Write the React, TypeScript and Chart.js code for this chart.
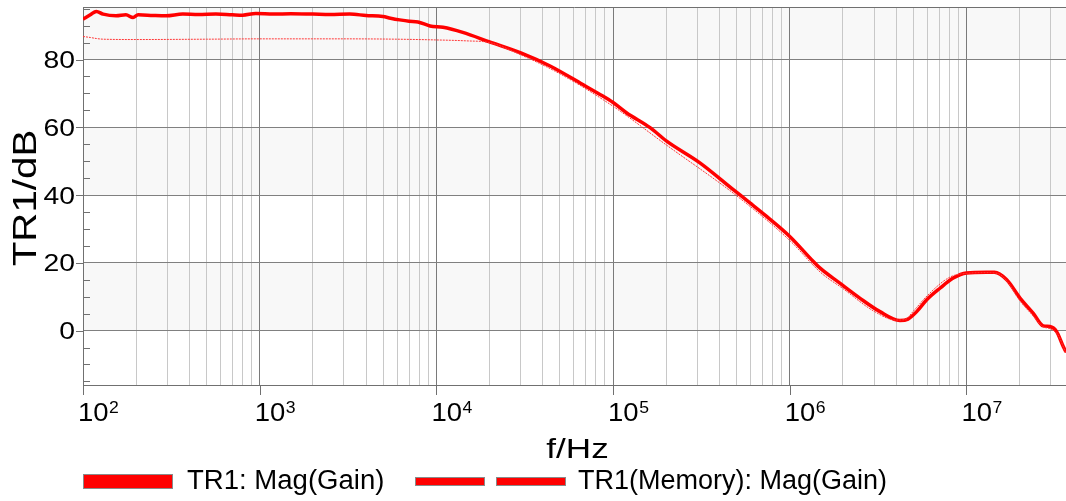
import React, { useEffect, useRef } from 'react';
import { Chart, registerables } from 'chart.js';

Chart.register(...registerables);

// ---- data ----
const mainFreq = [
  100, 110, 119, 130, 154, 175, 192, 205, 250, 295, 367, 450, 565, 700, 800, 950,
  1200, 1500, 2000, 2500, 3230, 4000, 4980, 5500, 6200, 7000, 7860, 9200, 10900,
  14100, 20000, 30300, 44000, 67000, 84300, 100000, 119000, 162000, 201000, 310000,
  479000, 595000, 740000, 1000000, 1360000, 1480000, 1920000, 2490000, 3240000,
  4200000, 4670000, 5230000, 5960000, 7080000, 8420000, 10000000, 13000000,
  14400000, 16900000, 20100000, 23900000, 27200000, 29700000, 32400000, 35300000,
  36600000,
];
const mainDb = [
  91.9, 93.2, 94.2, 93.4, 92.9, 93.2, 92.4, 93.2, 93.0, 92.9, 93.4, 93.3, 93.4, 93.2,
  93.1, 93.6, 93.4, 93.5, 93.4, 93.3, 93.4, 93.0, 92.7, 92.2, 91.7, 91.3, 91.1, 89.9,
  89.5, 88.0, 85.2, 81.9, 78.1, 72.7, 69.7, 67.3, 64.3, 59.9, 55.9, 49.5, 41.6, 37.7,
  33.7, 27.8, 20.4, 18.5, 14.0, 9.6, 5.6, 3.0, 3.4, 5.6, 9.1, 12.5, 15.5, 17.0, 17.2,
  17.2, 15.0, 9.6, 5.1, 1.4, 1.2, -0.3, -4.7, -6.3,
];
const memFreq = [
  100, 110, 119, 130, 200, 500, 1000, 3000, 6000, 9600, 14900, 20000, 30000, 50000,
  100000, 200000, 500000, 1000000, 1500000, 2000000, 3000000, 4000000, 4500000,
  5000000, 6000000, 8000000, 10000000, 13000000, 15000000, 17000000, 20000000,
  24000000, 27000000, 30000000, 33000000, 36600000,
];
const memDb = [
  86.8, 86.5, 86.2, 86.0, 85.9, 86.0, 86.1, 86.1, 86.0, 85.8, 85.5, 85.0, 81.4, 75.8,
  66.2, 54.8, 39.8, 26.6, 17.1, 12.4, 5.7, 3.1, 3.3, 5.7, 10.3, 15.7, 16.9, 17.1, 16.9,
  14.5, 8.9, 4.2, 1.2, 0.5, -1.3, -6.8,
];
const seriesLabels = ['TR1: Mag(Gain)', 'TR1(Memory): Mag(Gain)'];
const yMajorTicks = [0, 20, 40, 60, 80];
const yMinorTicks = [-15, -10, -5, 5, 10, 15, 25, 30, 35, 45, 50, 55, 65, 70, 75, 85, 90, 95];
const xDecadeExps = [2, 3, 4, 5, 6, 7];
const xTitle = 'f/Hz';
const yTitle = 'TR1/dB';

const X_MIN = 100;
const X_MAX = 3.66e7;
const Y_MIN = -16.05;
const Y_MAX = 95.5;

const FONT = '"Liberation Sans", Arial, sans-serif';
const RED = '#ff0000';
const AXIS = '#707070';

function buildXTicks(): number[] {
  const out: number[] = [];
  for (let e = 2; e <= 7; e++) {
    for (let m = 1; m <= 9; m++) {
      const v = m * Math.pow(10, e);
      if (v >= X_MIN && v <= X_MAX) out.push(v);
    }
  }
  return out;
}

function isDecade(v: number) {
  const l = Math.log10(v);
  return Math.abs(l - Math.round(l)) < 1e-9;
}

function stretchedText(ctx: CanvasRenderingContext2D, text: string, x: number, y: number, sx: number, align: CanvasTextAlign) {
  ctx.save();
  ctx.translate(x, y);
  ctx.scale(sx, 1);
  ctx.textAlign = align;
  ctx.fillText(text, 0, 0);
  ctx.restore();
}

const decorPlugin = {
  id: 'decor',
  beforeDraw(chart: any) {
    const { ctx, chartArea: a, scales } = chart;
    const y = scales.y;
    ctx.save();
    ctx.fillStyle = '#ffffff';
    ctx.fillRect(0, 0, chart.width, chart.height);
    ctx.fillStyle = '#f8f8f8';
    const bands = [[0, 20], [40, 60], [80, Y_MAX]];
    for (const [lo, hi] of bands) {
      const t = y.getPixelForValue(hi);
      const b = y.getPixelForValue(lo);
      ctx.fillRect(a.left, t, a.right - a.left, b - t);
    }
    ctx.restore();
  },
  afterDraw(chart: any) {
    const { ctx, chartArea: a, scales } = chart;
    const x = scales.x;
    const y = scales.y;
    ctx.save();
    ctx.strokeStyle = AXIS;
    ctx.lineWidth = 1;
    // top frame
    ctx.beginPath();
    ctx.moveTo(a.left, Math.round(a.top) + 0.5);
    ctx.lineTo(a.right, Math.round(a.top) + 0.5);
    ctx.stroke();
    // y ticks
    ctx.beginPath();
    for (const v of yMajorTicks) {
      const py = Math.round(y.getPixelForValue(v)) + 0.5;
      ctx.moveTo(a.left - 7, py);
      ctx.lineTo(a.left, py);
    }
    for (const v of yMinorTicks) {
      const py = Math.round(y.getPixelForValue(v)) + 0.5;
      ctx.moveTo(a.left, py);
      ctx.lineTo(a.left + 7, py);
    }
    // x decade ticks
    for (const e of xDecadeExps) {
      const px = Math.round(x.getPixelForValue(Math.pow(10, e))) + 0.5;
      ctx.moveTo(px, a.bottom);
      ctx.lineTo(px, a.bottom + 10);
    }
    ctx.stroke();

    ctx.fillStyle = '#000000';
    ctx.textBaseline = 'alphabetic';
    // y tick labels
    ctx.font = `24px ${FONT}`;
    for (const v of yMajorTicks) {
      const py = y.getPixelForValue(v);
      stretchedText(ctx, String(v), a.left - 8, py + 8.5, 1.18, 'right');
    }
    // x tick labels 10^n
    for (const e of xDecadeExps) {
      const px = x.getPixelForValue(Math.pow(10, e));
      ctx.font = `25px ${FONT}`;
      const sx = 1.1;
      const w = ctx.measureText('10').width * sx;
      stretchedText(ctx, '10', px - 5, a.bottom + 36, sx, 'left');
      ctx.font = `16px ${FONT}`;
      stretchedText(ctx, String(e), px - 5 + w + 0.5, a.bottom + 28, sx, 'left');
    }
    // axis titles
    ctx.font = `27px ${FONT}`;
    stretchedText(ctx, xTitle, (a.left + a.right) / 2 + 3, 458, 1.3, 'center');
    ctx.save();
    ctx.translate(36, (a.top + a.bottom) / 2 + 2);
    ctx.rotate(-Math.PI / 2);
    ctx.font = `33px ${FONT}`;
    stretchedText(ctx, yTitle, 0, 0, 1.22, 'center');
    ctx.restore();

    // legend
    ctx.strokeStyle = '#8a8a8a';
    ctx.fillStyle = RED;
    ctx.fillRect(83, 474, 90, 15);
    ctx.strokeRect(83.5, 474.5, 89, 14);
    ctx.fillRect(415, 477, 70, 9);
    ctx.strokeRect(415.5, 477.5, 69, 8);
    ctx.fillRect(496, 477, 70, 9);
    ctx.strokeRect(496.5, 477.5, 69, 8);
    ctx.fillStyle = '#000000';
    ctx.font = `27px ${FONT}`;
    stretchedText(ctx, seriesLabels[0], 187, 489, 1.02, 'left');
    stretchedText(ctx, seriesLabels[1], 578, 489, 1.0, 'left');
    ctx.restore();
  },
};

export default function App() {
  const ref = useRef<HTMLCanvasElement | null>(null);
  useEffect(() => {
    const canvas = ref.current;
    if (!canvas) return;
    const xTicks = buildXTicks();
    const chart = new Chart(canvas, {
      type: 'line',
      data: {
        datasets: [
          {
            label: seriesLabels[1],
            data: memFreq.map((f, i) => ({ x: f, y: memDb[i] })),
            borderColor: '#ff3838',
            borderWidth: 1,
            borderDash: [2, 1],
            pointRadius: 0,
            cubicInterpolationMode: 'monotone',
            fill: false,
          },
          {
            label: seriesLabels[0],
            data: mainFreq.map((f, i) => ({ x: f, y: mainDb[i] })),
            borderColor: RED,
            borderWidth: 3.5,
            pointRadius: 0,
            cubicInterpolationMode: 'monotone',
            fill: false,
          },
        ],
      },
      options: {
        animation: false,
        responsive: false,
        devicePixelRatio: 1,
        layout: { padding: { top: 7, left: 0, right: 0, bottom: 0 } },
        plugins: {
          legend: { display: false },
          title: { display: false },
          tooltip: { enabled: false },
        },
        events: [],
        scales: {
          x: {
            type: 'logarithmic',
            min: X_MIN,
            max: X_MAX,
            afterBuildTicks: (s: any) => {
              s.ticks = xTicks.map((v) => ({ value: v }));
            },
            afterFit: (s: any) => {
              s.height = 116;
            },
            ticks: { display: false, autoSkip: false },
            grid: {
              drawTicks: false,
              lineWidth: 1,
              color: (c: any) => (c.tick && isDecade(c.tick.value) ? '#7a7a7a' : '#c8c8c8'),
            },
            border: { display: true, color: AXIS, width: 1 },
          },
          y: {
            type: 'linear',
            min: Y_MIN,
            max: Y_MAX,
            afterBuildTicks: (s: any) => {
              s.ticks = yMajorTicks.map((v) => ({ value: v }));
            },
            afterFit: (s: any) => {
              s.width = 83;
            },
            ticks: { display: false },
            grid: { drawTicks: false, lineWidth: 1, color: '#808080' },
            border: { display: true, color: AXIS, width: 1 },
          },
        },
      },
      plugins: [decorPlugin],
    } as any);
    return () => chart.destroy();
  }, []);
  return (
    <div style={{ position: 'absolute', left: 0, top: 0, width: 1066, height: 501 }}>
      <canvas ref={ref} width={1066} height={501} style={{ display: 'block' }} />
    </div>
  );
}
